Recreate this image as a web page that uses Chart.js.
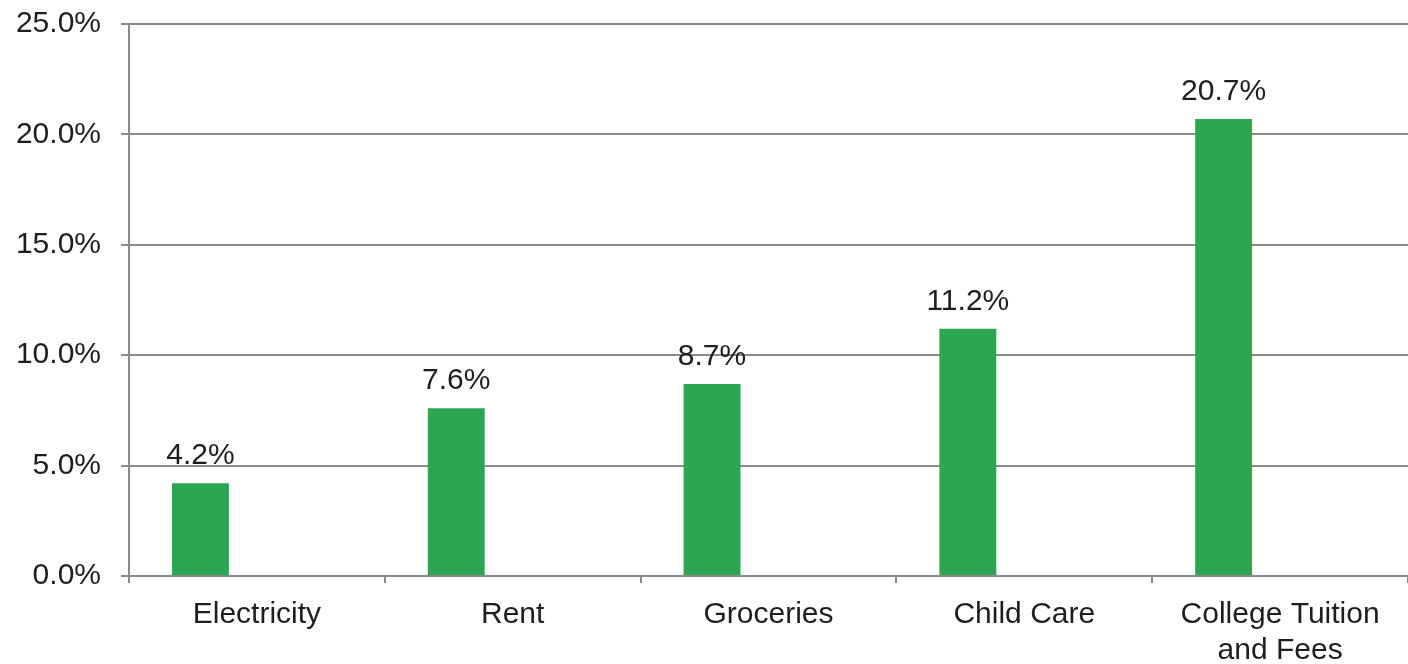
<!DOCTYPE html>
<html>
<head>
<meta charset="utf-8">
<script src="https://cdn.jsdelivr.net/npm/chart.js@4/dist/chart.umd.min.js"></script>
<style>
  html, body { margin: 0; padding: 0; background: #fff; }
  #wrap { width: 1408px; height: 664px; }
</style>
</head>
<body>
<div id="wrap"><canvas id="costChart"></canvas></div>
<script>
// категории и значения
const categories = ['Electricity', 'Rent', 'Groceries', 'Child Care', ['College Tuition', 'and Fees']];
const increaseValues = [4.2, 7.6, 8.7, 11.2, 20.7];
const emptySlot = [null, null, null, null, null];
const yTicks = [0, 5, 10, 15, 20, 25];

const barGreen = '#2ca650';
const gridGrey = '#8a8a8a';
const textDark = '#1e1e1e';
const fontFamily = '"Liberation Sans", Arial, sans-serif';

// подписи над столбиками
const valueLabels = {
  id: 'valueLabels',
  afterDatasetsDraw(chart) {
    const ctx = chart.ctx;
    const meta = chart.getDatasetMeta(0);
    ctx.save();
    ctx.font = '30px ' + fontFamily;
    ctx.fillStyle = textDark;
    ctx.textAlign = 'center';
    ctx.textBaseline = 'alphabetic';
    meta.data.forEach((bar, i) => {
      ctx.fillText(increaseValues[i].toFixed(1) + '%', bar.x, bar.y - 19);
    });
    ctx.restore();
  }
};

let ctx = document.getElementById('costChart').getContext('2d');
let chart = new Chart(ctx, {
  type: 'bar',
  data: {
    labels: categories,
    datasets: [{
      data: increaseValues,
      backgroundColor: barGreen,
      borderWidth: 0,
      categoryPercentage: 0.883,
      barPercentage: 0.504
    }, {
      data: emptySlot,
      backgroundColor: 'rgba(0,0,0,0)',
      categoryPercentage: 0.883,
      barPercentage: 0.504
    }]
  },
  options: {
    responsive: true,
    maintainAspectRatio: false,
    animation: false,
    layout: { padding: { top: 24, right: 0, left: 0, bottom: 0 } },
    plugins: {
      legend: { display: false },
      tooltip: { enabled: false }
    },
    scales: {
      x: {
        grid: {
          drawOnChartArea: false,
          drawTicks: true,
          tickLength: 7,
          color: gridGrey,
          lineWidth: 2
        },
        border: { display: true, color: gridGrey, width: 2 },
        ticks: {
          color: textDark,
          padding: 13,
          maxRotation: 0,
          autoSkip: false,
          font: { family: fontFamily, size: 30, lineHeight: 1.22 }
        },
        afterFit(scale) {
          scale.height = 88;
          scale.paddingLeft = 0;
          scale.paddingRight = 0;
        }
      },
      y: {
        min: 0,
        max: 25,
        afterBuildTicks(scale) { scale.ticks = yTicks.map(v => ({ value: v })); },
        grid: {
          color: gridGrey,
          lineWidth: 2,
          drawTicks: true,
          tickLength: 8
        },
        border: { display: true, color: gridGrey, width: 2 },
        ticks: {
          color: textDark,
          padding: 20,
          font: { family: fontFamily, size: 30 },
          callback: v => v.toFixed(1) + '%'
        },
        afterFit(scale) {
          scale.width = 129;
          scale.paddingTop = 0;
          scale.paddingBottom = 0;
        }
      }
    }
  },
  plugins: [valueLabels]
});
</script>
</body>
</html>
